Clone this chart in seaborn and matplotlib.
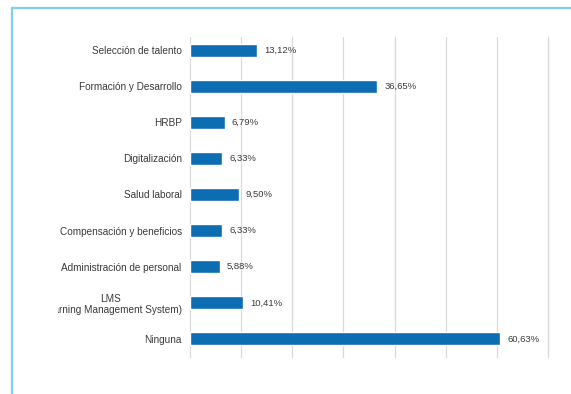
import matplotlib
matplotlib.use("Agg")
import matplotlib.pyplot as plt
from matplotlib.patches import Rectangle
from matplotlib.lines import Line2D
import seaborn as sns

categories = [
    "Selección de talento",
    "Formación y Desarrollo",
    "HRBP",
    "Digitalización",
    "Salud laboral",
    "Compensación y beneficios",
    "Administración de personal",
    "LMS\n(Learning Management System)",
    "Ninguna",
]
values = [13.12, 36.65, 6.79, 6.33, 9.50, 6.33, 5.88, 10.41, 60.63]
value_labels = ["13,12%", "36,65%", "6,79%", "6,33%", "9,50%",
                "6,33%", "5,88%", "10,41%", "60,63%"]
grid_ticks = [0, 10, 20, 30, 40, 50, 60, 70]

sns.set_theme(style="white")
plt.rcParams["font.family"] = ["Liberation Sans Narrow", "Liberation Sans", "DejaVu Sans"]

W, H = 571, 394
fig = plt.figure(figsize=(W / 100, H / 100), dpi=100)
fig.patch.set_facecolor("white")

# axes box in pixel terms: x 190..548, y 32..357 (from top)
left, right, top, bottom = 190, 548, 32, 357
ax = fig.add_axes([left / W, 1 - bottom / H, (right - left) / W, (bottom - top) / H])

sns.barplot(x=values, y=categories, orient="h", color="#0D6DB2",
            width=0.36, saturation=1, ax=ax)

ax.set_xlim(0, 70)
ax.set_ylim(8.5, -0.5)
ax.set_xticks(grid_ticks)
ax.set_xticklabels([])
ax.tick_params(axis="x", length=0)
ax.tick_params(axis="y", length=0, pad=6, labelsize=7.2, labelcolor="#3a3a3a")
for t in grid_ticks:
    ax.plot([t, t], [8.5, -0.35], color="#d9d9d9", lw=0.9, zorder=0, clip_on=False)
for s in ax.spines.values():
    s.set_visible(False)
ax.set_xlabel("")
ax.set_ylabel("")

# LMS label is cut at the frame edge
clip = Rectangle((58, 0), W, H, transform=None)
for lbl in ax.get_yticklabels():
    lbl.set_multialignment("center")
    lbl.set_clip_path(clip)

for i, (v, txt) in enumerate(zip(values, value_labels)):
    ax.annotate(txt, xy=(v, i), xytext=(5, 0), textcoords="offset points",
                ha="left", va="center", fontsize=6.8, color="#3a3a3a")

# light blue frame around the panel
frame_color = "#7fd0ea"
fig.add_artist(Line2D([12 / W, 1], [1 - 7.5 / H, 1 - 7.5 / H], color=frame_color,
                      lw=1.6, transform=fig.transFigure))
fig.add_artist(Line2D([12 / W, 12 / W], [0, 1 - 7.5 / H], color=frame_color,
                      lw=1.6, transform=fig.transFigure))

fig.savefig("out.png", dpi=100, facecolor="white")
